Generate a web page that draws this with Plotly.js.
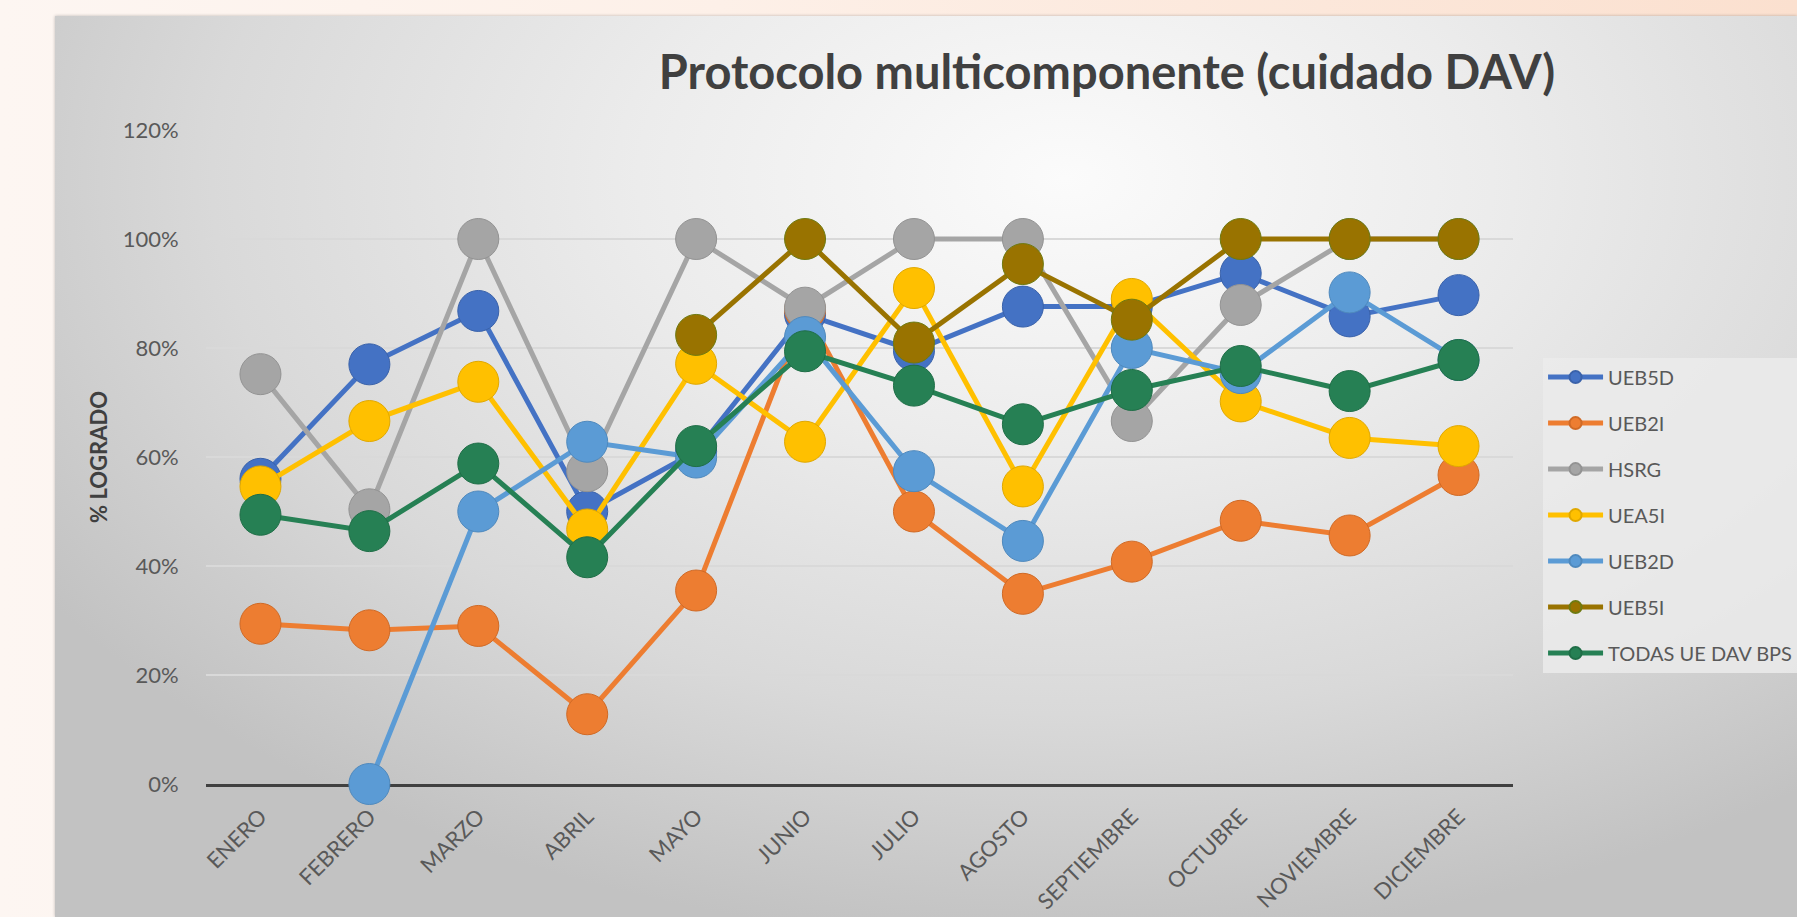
<!DOCTYPE html>
<html>
<head>
<meta charset="utf-8">
<script src="https://cdn.plot.ly/plotly-3.0.1.min.js"></script>
<style>
  html, body { margin:0; padding:0; width:1797px; height:917px; overflow:hidden;
    background: linear-gradient(90deg, #fdf6f2 0%, #fdf0e8 40%, #fbe0cf 100%); }
  #bg { position:absolute; left:55px; top:16px; width:1742px; height:901px;
    background: radial-gradient(ellipse 70% 85% at 58% 18%, #fbfbfb 0%, #ececec 35%, #d9d9d9 70%, #c2c2c2 100%);
    box-shadow: 0 0 3px rgba(0,0,0,0.25); }
  #chart { position:absolute; left:0; top:0; width:1797px; height:917px; }
</style>
</head>
<body>
<div id="bg"></div>
<div id="chart"></div>
<script>
const months = ["ENERO","FEBRERO","MARZO","ABRIL","MAYO","JUNIO","JULIO","AGOSTO","SEPTIEMBRE","OCTUBRE","NOVIEMBRE","DICIEMBRE"];

const UEB5D = [0.56, 0.77, 0.868, 0.50, 0.61, 0.862, 0.795, 0.876, 0.876, 0.937, 0.858, 0.897];
const UEB2I = [0.294, 0.282, 0.29, 0.128, 0.355, 0.87, 0.50, 0.349, 0.408, 0.483, 0.456, 0.567];
const HSRG  = [0.752, 0.504, 1.0, 0.574, 1.0, 0.874, 1.0, 1.0, 0.666, 0.879, 1.0, 1.0];
const UEA5I = [0.546, 0.666, 0.738, 0.467, 0.771, 0.628, 0.91, 0.546, 0.89, 0.702, 0.635, 0.62];
const UEB2D = [null, 0.0, 0.50, 0.628, 0.599, 0.82, 0.574, 0.446, 0.80, 0.754, 0.902, 0.778];
const UEB5I = [null, null, null, null, 0.824, 1.0, 0.81, 0.954, 0.852, 1.0, 1.0, 1.0];
const TODAS = [0.494, 0.464, 0.588, 0.416, 0.62, 0.794, 0.731, 0.66, 0.723, 0.767, 0.721, 0.778];

const seriesNames = ["UEB5D","UEB2I","HSRG","UEA5I","UEB2D","UEB5I","TODAS UE DAV BPS"];
const seriesData = [UEB5D, UEB2I, HSRG, UEA5I, UEB2D, UEB5I, TODAS];
const seriesColors = ["#4472C4","#ED7D31","#A5A5A5","#FFC000","#5B9BD5","#997300","#268054"];
const borderColors = ["#3a62aa","#d06a26","#939393","#e0a800","#4f89bd","#6f7a10","#1f6e47"];

const traces = seriesNames.map((n, i) => ({
  type: 'scatter',
  mode: 'lines+markers',
  name: n,
  legendgroup: 'g' + i,
  x: months,
  y: seriesData[i],
  cliponaxis: false,
  line: { color: seriesColors[i], width: 5 },
  marker: { color: seriesColors[i], size: 41, line: { color: borderColors[i], width: 1 } },
  hoverinfo: 'x+y+name'
}));

const layout = {
  width: 1797, height: 917,
  paper_bgcolor: 'rgba(0,0,0,0)',
  plot_bgcolor: 'rgba(0,0,0,0)',
  margin: { l: 206, r: 284, t: 130, b: 133, autoexpand: false },
  title: {
    text: 'Protocolo multicomponente (cuidado DAV)',
    font: { family: 'Lato, sans-serif', size: 47, color: '#404040', weight: 'bold' },
    xref: 'container', x: 0.616, xanchor: 'center',
    yref: 'container', y: 0.921, yanchor: 'middle'
  },
  font: { family: 'Lato, sans-serif', color: '#595959' },
  showlegend: true,
  legend: {
    x: 1.023, xanchor: 'left', y: 0.652, yanchor: 'top',
    bgcolor: 'rgba(235,235,235,0.85)',
    font: { family: 'Lato, sans-serif', size: 20, color: '#595959' },
    itemsizing: 'constant',
    itemwidth: 55,
    tracegroupgap: 17,
    traceorder: 'grouped'
  },
  xaxis: {
    type: 'category',
    range: [-0.5, 11.5],
    showgrid: false,
    showline: true, linecolor: '#404040', linewidth: 3,
    layer: 'below traces',
    tickangle: -45,
    tickfont: { family: 'Lato, sans-serif', size: 22, color: '#595959' },
    ticks: 'outside', ticklen: 8, tickcolor: 'rgba(0,0,0,0)',
    zeroline: false,
    fixedrange: true
  },
  yaxis: {
    range: [0, 1.2],
    dtick: 0.2,
    tickformat: '.0%',
    showgrid: true, gridcolor: '#d9d9d9', gridwidth: 2,
    zeroline: false, showline: false,
    layer: 'below traces',
    ticks: 'outside', ticklen: 22, tickcolor: 'rgba(0,0,0,0)',
    tickfont: { family: 'Lato, sans-serif', size: 22, color: '#595959' },
    title: { text: '% LOGRADO', standoff: 8,
      font: { family: 'Lato, sans-serif', size: 22, color: '#404040', weight: 'bold' } },
    fixedrange: true
  }
};

Plotly.newPlot('chart', traces, layout, { displayModeBar: false, responsive: false });
</script>
</body>
</html>
